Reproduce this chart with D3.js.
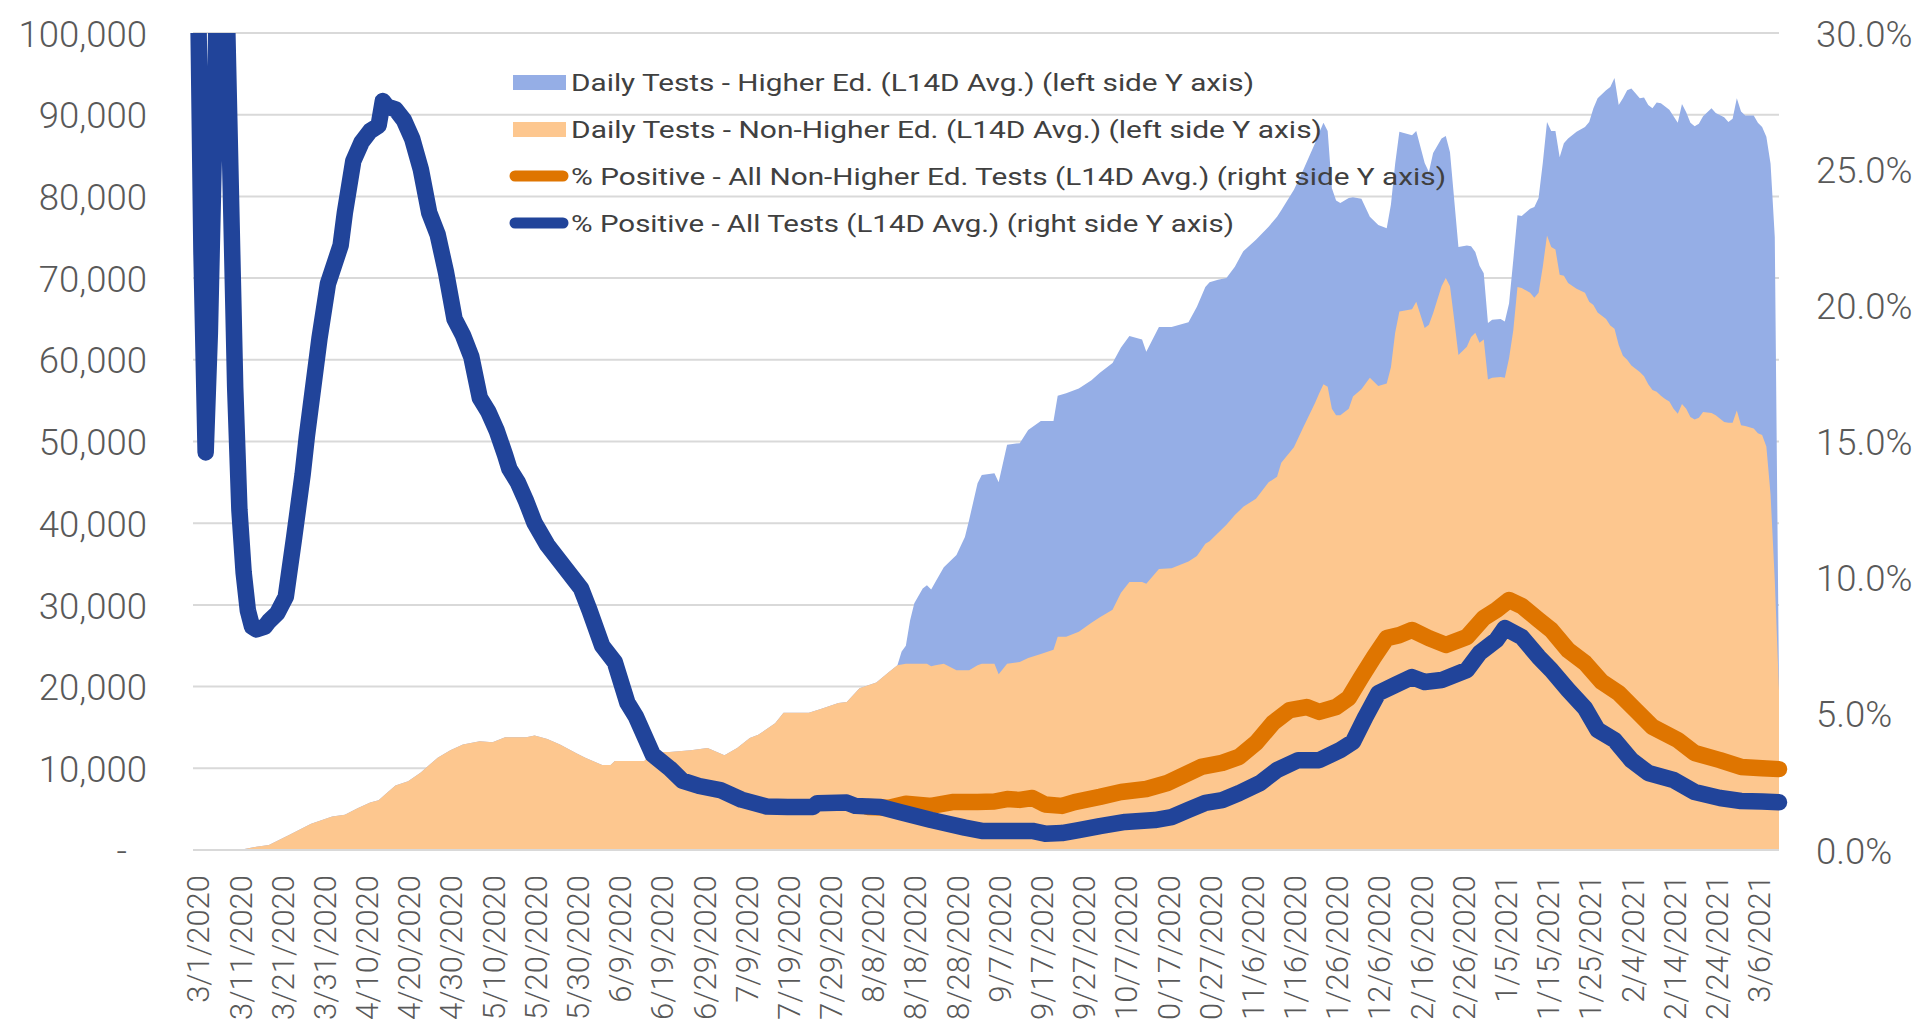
<!DOCTYPE html>
<html>
<head>
<meta charset="utf-8">
<script src="https://cdn.jsdelivr.net/npm/d3@7"></script>
<style>
  body { margin: 0; background: #fff; }
  svg { display: block; font-family: Roboto, "Open Sans", sans-serif; }
</style>
</head>
<body>
<svg width="1920" height="1022"></svg>
<script>
// all series are daily, counted in days from 3/1/2020
const startDate = new Date(2020, 2, 1);
const lastDay = 376;

const xTickLabels = ["3/1/2020", "3/11/2020", "3/21/2020", "3/31/2020", "4/10/2020", "4/20/2020",
  "4/30/2020", "5/10/2020", "5/20/2020", "5/30/2020", "6/9/2020", "6/19/2020", "6/29/2020",
  "7/9/2020", "7/19/2020", "7/29/2020", "8/8/2020", "8/18/2020", "8/28/2020", "9/7/2020",
  "9/17/2020", "9/27/2020", "10/7/2020", "10/17/2020", "10/27/2020", "11/6/2020", "11/16/2020",
  "11/26/2020", "12/6/2020", "12/16/2020", "12/26/2020", "1/5/2021", "1/15/2021", "1/25/2021",
  "2/4/2021", "2/14/2021", "2/24/2021", "3/6/2021"];

const leftTickValues = [0, 10000, 20000, 30000, 40000, 50000, 60000, 70000, 80000, 90000, 100000];
const leftTickLabels = ["-", "10,000", "20,000", "30,000", "40,000", "50,000", "60,000", "70,000", "80,000", "90,000", "100,000"];
const rightTickValues = [0, 5, 10, 15, 20, 25, 30];
const rightTickLabels = ["0.0%", "5.0%", "10.0%", "15.0%", "20.0%", "25.0%", "30.0%"];

// Daily Tests - Non-Higher Ed. (L14D Avg.)
const testDays = [
  0, 11, 15, 18, 23, 28, 33, 36, 39, 42,
  44, 46, 48, 51, 54, 56, 58, 61, 64, 68,
  71, 74, 79, 81, 84, 87, 91, 93, 97, 99,
  100, 107, 109, 113, 118, 122, 126, 129, 132, 134,
  138, 140, 146, 149, 153, 155, 158, 162, 165, 167,
  168, 169, 170, 171, 173, 174, 175, 176, 178, 181,
  183, 184, 186, 187, 190, 191, 193, 196, 198, 201,
  204, 205, 207, 210, 213, 215, 218, 220, 222, 225,
  226, 229, 232, 236, 238, 240, 241, 243, 245, 247,
  249, 252, 255, 257, 258, 261, 263, 266, 267, 268,
  269, 270, 271, 272, 274, 275, 277, 279, 281, 283,
  284, 285, 286, 289, 290, 292, 293, 294, 296, 297,
  298, 299, 300, 302, 303, 304, 305, 306, 307, 308,
  310, 311, 312, 313, 314, 315, 317, 318, 319, 320,
  321, 322, 323, 324, 325, 326, 328, 330, 331, 332,
  333, 335, 336, 337, 338, 339, 340, 341, 343, 344,
  345, 346, 347, 348, 349, 350, 351, 352, 353, 354,
  355, 356, 357, 358, 360, 361, 363, 364, 365, 366,
  367, 368, 370, 371, 372, 373, 374, 375, 376];
const nonHigherTests = [
  0, 0, 400, 600, 1900, 3200, 4100, 4300, 5100, 5800,
  6100, 7000, 7900, 8400, 9500, 10400, 11300, 12200, 12900, 13300,
  13200, 13800, 13800, 14000, 13600, 12900, 11800, 11300, 10400, 10400,
  10900, 10900, 12000, 12000, 12200, 12500, 11600, 12500, 13700, 14100,
  15500, 16800, 16800, 17300, 18000, 18100, 19800, 20500, 21800, 22600,
  22700, 22800, 22800, 22800, 22800, 22800, 22500, 22600, 22800, 22000,
  22000, 22000, 22600, 22800, 22800, 21500, 22800, 23000, 23500, 24000,
  24500, 26100, 26100, 26700, 27800, 28500, 29400, 31500, 32800, 32800,
  32600, 34400, 34500, 35300, 36000, 37500, 37800, 38800, 39800, 41000,
  42000, 43000, 45000, 45700, 47400, 49300, 51500, 54700, 55900, 57000,
  56700, 54000, 53200, 53200, 54000, 55500, 56400, 57800, 56800, 57100,
  59100, 63300, 65900, 66200, 67100, 63900, 64300, 65700, 69000, 70000,
  69000, 64900, 60600, 61600, 62800, 63300, 62100, 62500, 57600, 57800,
  57900, 57800, 60200, 63600, 68900, 68800, 68200, 67600, 68200, 71400,
  75200, 73800, 73500, 70400, 70300, 69400, 68700, 68200, 67100, 66700,
  65800, 65000, 64200, 63800, 61800, 60500, 60000, 59300, 58500, 58000,
  57000, 56300, 56100, 55600, 55200, 54900, 54000, 53400, 54600, 54000,
  53000, 52700, 52900, 53600, 53500, 53200, 52400, 52300, 52300, 53800,
  52000, 51900, 51600, 51000, 50800, 49400, 43500, 33000, 19500];

// Daily Tests - Higher Ed. (L14D Avg.), reported from mid August
const higherEdDays = [
  167, 168, 169, 170, 171, 173, 174, 175, 176, 178,
  181, 183, 184, 186, 187, 190, 191, 193, 196, 198,
  201, 204, 205, 207, 210, 213, 215, 218, 220, 222,
  225, 226, 229, 232, 236, 238, 240, 241, 243, 245,
  247, 249, 252, 255, 257, 258, 261, 263, 266, 267,
  268, 269, 270, 271, 272, 274, 275, 277, 279, 281,
  283, 284, 285, 286, 289, 290, 292, 293, 294, 296,
  297, 298, 299, 300, 302, 303, 304, 305, 306, 307,
  308, 310, 311, 312, 313, 314, 315, 317, 318, 319,
  320, 321, 322, 323, 324, 325, 326, 328, 330, 331,
  332, 333, 335, 336, 337, 338, 339, 340, 341, 343,
  344, 345, 346, 347, 348, 349, 350, 351, 352, 353,
  354, 355, 356, 357, 358, 360, 361, 363, 364, 365,
  366, 367, 368, 370, 371, 372, 373, 374, 375, 376];
const higherEdTests = [
  0, 1600, 2200, 5300, 7400, 9200, 9600, 9400, 10200, 11800,
  14100, 16300, 18400, 22300, 23100, 23300, 23500, 26800, 26800, 27900,
  28500, 28000, 29500, 29800, 29800, 29700, 29900, 30200, 30000, 30100,
  29700, 28400, 29600, 29500, 29300, 30500, 31400, 31700, 31000, 30200,
  30400, 31300, 31700, 31300, 31800, 30900, 31500, 31500, 31800, 31900,
  32000, 31300, 27000, 26300, 26000, 25800, 24400, 23300, 19700, 19700,
  19000, 19900, 20700, 22000, 21300, 20900, 20200, 18700, 19600, 18100,
  17400, 16400, 14700, 13200, 12400, 11100, 9900, 9400, 8100, 6900,
  7100, 7100, 6900, 6700, 8600, 8800, 8800, 10300, 11100, 11600,
  12700, 13900, 14200, 14500, 14400, 16200, 17700, 19200, 20300, 22000,
  24100, 26200, 28000, 29200, 30700, 29400, 31500, 33000, 33900, 33500,
  34100, 34200, 34500, 35400, 35800, 35800, 35700, 35800, 35600, 36700,
  36300, 36000, 35900, 36000, 36200, 37300, 37000, 37300, 36800, 37200,
  38200, 38400, 38000, 38300, 38000, 37700, 37900, 40500, 42000, 500];

// % Positive - All Tests (L14D Avg.)
const allPosDays = [
  0, 1, 2, 3, 4, 5, 6, 7, 8, 9,
  10, 11, 12, 13, 14, 15, 17, 18, 20, 22,
  24, 26, 27, 30, 32, 35, 36, 38, 40, 42,
  44, 45, 46, 48, 50, 52, 54, 56, 58, 60,
  62, 64, 66, 68, 70, 72, 74, 75, 77, 79,
  81, 84, 88, 92, 94, 97, 100, 103, 105, 109,
  113, 116, 120, 125, 130, 136, 141, 147, 148, 155,
  157, 163, 168, 175, 183, 187, 199, 202, 206, 210,
  215, 221, 228, 232, 236, 240, 244, 248, 253, 257,
  262, 267, 272, 275, 278, 281, 285, 289, 292, 296,
  302, 305, 309, 311, 315, 319, 322, 326, 330, 333,
  337, 341, 345, 351, 356, 362, 367, 372, 376];
const allPosPct = [
  45, 34, 22, 14.6, 19, 26, 34, 36, 31, 24,
  17, 12.5, 10.2, 8.8, 8.2, 8.1, 8.2, 8.4, 8.7, 9.3,
  11.5, 13.8, 15.2, 18.8, 20.8, 22.2, 23.4, 25.3, 26.0, 26.4,
  26.6, 27.5, 27.3, 27.2, 26.8, 26.1, 25.0, 23.4, 22.6, 21.2,
  19.5, 18.9, 18.1, 16.6, 16.1, 15.4, 14.5, 14.0, 13.5, 12.8,
  12.0, 11.2, 10.4, 9.6, 8.8, 7.5, 6.9, 5.4, 4.9, 3.5,
  3.0, 2.55, 2.35, 2.2, 1.85, 1.6, 1.58, 1.58, 1.72, 1.74,
  1.62, 1.58, 1.38, 1.10, 0.82, 0.70, 0.70, 0.60, 0.62, 0.73,
  0.88, 1.03, 1.10, 1.21, 1.47, 1.73, 1.83, 2.09, 2.46, 2.94,
  3.3, 3.3, 3.67, 3.97, 4.9, 5.76, 6.06, 6.35, 6.17, 6.24,
  6.61, 7.23, 7.71, 8.15, 7.82, 7.09, 6.61, 5.88, 5.21, 4.41,
  4.04, 3.3, 2.83, 2.57, 2.13, 1.91, 1.80, 1.78, 1.75];

// % Positive - All Non-Higher Ed. Tests (L14D Avg.), same as all tests before August
const nonHigherPosDays = [
  160, 165, 169, 175, 180, 186, 190, 193, 196, 199,
  202, 206, 209, 215, 220, 226, 231, 234, 239, 244,
  248, 252, 256, 260, 264, 267, 271, 274, 277, 280,
  283, 286, 289, 293, 297, 302, 306, 309, 312, 315,
  319, 322, 326, 330, 334, 338, 342, 346, 352, 356,
  362, 367, 372, 376];
const nonHigherPosPct = [
  1.58, 1.55, 1.70, 1.62, 1.76, 1.76, 1.78, 1.87, 1.84, 1.91,
  1.67, 1.62, 1.76, 1.95, 2.13, 2.24, 2.46, 2.68, 3.05, 3.2,
  3.42, 3.93, 4.66, 5.14, 5.25, 5.07, 5.25, 5.58, 6.35, 7.09,
  7.78, 7.89, 8.08, 7.78, 7.53, 7.82, 8.52, 8.81, 9.18, 8.96,
  8.45, 8.08, 7.34, 6.87, 6.17, 5.76, 5.14, 4.52, 4.04, 3.56,
  3.3, 3.05, 3.0, 2.97];

const legendLabels = [
  "Daily Tests - Higher Ed. (L14D Avg.) (left side Y axis)",
  "Daily Tests - Non-Higher Ed. (L14D Avg.) (left side Y axis)",
  "% Positive - All Non-Higher Ed. Tests (L14D Avg.) (right side Y axis)",
  "% Positive - All Tests (L14D Avg.) (right side Y axis)"];

const colBlueArea = "#95aee6", colOrangeArea = "#fdc78f";
const colOrangeLine = "#df7500", colBlueLine = "#21449a";

// plot area
const plotLeft = 193, plotRight = 1779, plotTop = 33, plotBottom = 850;
const svg = d3.select("svg");
const day = (d) => d3.timeDay.offset(startDate, d);
const parseDate = d3.timeParse("%m/%d/%Y");

const x = d3.scaleTime().domain([startDate, day(lastDay)]).range([plotLeft, plotRight]);
const yLeft = d3.scaleLinear().domain([0, 100000]).range([plotBottom, plotTop]);
const yRight = d3.scaleLinear().domain([0, 30]).range([plotBottom, plotTop]);

// gridlines
svg.append("g")
  .selectAll("line")
  .data(leftTickValues.slice(1))
  .enter()
  .append("line")
  .attr("x1", plotLeft).attr("x2", plotRight)
  .attr("y1", (d) => yLeft(d)).attr("y2", (d) => yLeft(d))
  .attr("stroke", "#d9d9d9")
  .attr("stroke-width", 2);

// stacked areas: non-higher at the bottom, higher ed on top
const higherByDay = new Map(higherEdDays.map((d, i) => [d, higherEdTests[i]]));
const rows = testDays.map((d, i) => ({
  date: day(d),
  nonHigher: nonHigherTests[i],
  higher: higherByDay.get(d) || 0,
}));
const stacked = d3.stack().keys(["nonHigher", "higher"])(rows);

const area = d3.area()
  .x((d) => x(d.data.date))
  .y0(yLeft(0))
  .y1((d) => yLeft(d[1]));

svg.append("path").datum(stacked[1]).attr("d", area).attr("fill", colBlueArea);
svg.append("path").datum(stacked[0]).attr("d", area).attr("fill", colOrangeArea);

// axis base line
svg.append("line")
  .attr("x1", plotLeft).attr("x2", plotRight)
  .attr("y1", plotBottom).attr("y2", plotBottom)
  .attr("stroke", "#d9d9d9").attr("stroke-width", 2);

// lines (clipped to the plot area, the early peak goes off the top)
svg.append("clipPath").attr("id", "plotClip")
  .append("rect")
  .attr("x", plotLeft - 20).attr("y", plotTop)
  .attr("width", plotRight - plotLeft + 40).attr("height", plotBottom - plotTop + 20);

const line = d3.line()
  .x((d) => x(day(d[0])))
  .y((d) => yRight(d[1]));

const lines = svg.append("g").attr("clip-path", "url(#plotClip)");
lines.append("path")
  .datum(nonHigherPosDays.map((d, i) => [d, nonHigherPosPct[i]]))
  .attr("d", line)
  .attr("fill", "none")
  .attr("stroke", colOrangeLine)
  .attr("stroke-width", 16.5)
  .attr("stroke-linejoin", "round")
  .attr("stroke-linecap", "round");
lines.append("path")
  .datum(allPosDays.map((d, i) => [d, allPosPct[i]]))
  .attr("d", line)
  .attr("fill", "none")
  .attr("stroke", colBlueLine)
  .attr("stroke-width", 16.5)
  .attr("stroke-linejoin", "round")
  .attr("stroke-linecap", "round");

// axes
const tickDates = xTickLabels.map(parseDate);
const xAxis = svg.append("g")
  .attr("transform", `translate(0,${plotBottom})`)
  .call(d3.axisBottom(x).tickValues(tickDates).tickFormat((d, i) => xTickLabels[i]).tickSize(0));
xAxis.select(".domain").remove();
xAxis.selectAll("text")
  .attr("transform", "rotate(-90)")
  .attr("text-anchor", "end")
  .attr("x", -25)
  .attr("y", 5)
  .attr("dy", "0.35em")
  .attr("fill", "#595959")
  .style("font-size", "31px")
  .style("font-weight", 300)
  .style("font-family", "Roboto, sans-serif");

const yAxisL = svg.append("g")
  .attr("transform", "translate(147,0)")
  .call(d3.axisLeft(yLeft).tickValues(leftTickValues).tickFormat((d, i) => leftTickLabels[i]).tickSize(0).tickPadding(0));
yAxisL.select(".domain").remove();
yAxisL.selectAll("text")
  .attr("fill", "#595959")
  .attr("dy", "0.36em")
  .attr("x", (d) => (d === 0 ? -20 : 0))
  .style("font-size", "36.5px")
  .style("font-weight", 300)
  .style("font-family", "Roboto, sans-serif");

const yAxisR = svg.append("g")
  .attr("transform", "translate(1816,0)")
  .call(d3.axisRight(yRight).tickValues(rightTickValues).tickFormat((d, i) => rightTickLabels[i]).tickSize(0).tickPadding(0));
yAxisR.select(".domain").remove();
yAxisR.selectAll("text")
  .attr("fill", "#595959")
  .attr("dy", "0.36em")
  .style("font-size", "36.5px")
  .style("font-weight", 300)
  .style("font-family", "Roboto, sans-serif");

// legend
const legendRows = [82.5, 129.5, 176, 223];
const legendWidths = [683, 751, 875, 663];
const legend = svg.append("g");
legend.append("rect").attr("x", 513).attr("y", legendRows[0] - 7.5).attr("width", 53).attr("height", 15).attr("fill", colBlueArea);
legend.append("rect").attr("x", 513).attr("y", legendRows[1] - 7.5).attr("width", 53).attr("height", 15).attr("fill", colOrangeArea);
legend.append("line").attr("x1", 515).attr("x2", 563).attr("y1", legendRows[2]).attr("y2", legendRows[2])
  .attr("stroke", colOrangeLine).attr("stroke-width", 11).attr("stroke-linecap", "round");
legend.append("line").attr("x1", 515).attr("x2", 563).attr("y1", legendRows[3]).attr("y2", legendRows[3])
  .attr("stroke", colBlueLine).attr("stroke-width", 11).attr("stroke-linecap", "round");
legend.selectAll("text")
  .data(legendLabels)
  .enter()
  .append("text")
  .attr("x", 571)
  .attr("y", (d, i) => legendRows[i])
  .attr("dy", "0.36em")
  .attr("textLength", (d, i) => legendWidths[i])
  .attr("lengthAdjust", "spacingAndGlyphs")
  .attr("fill", "#404040")
  .style("font-size", "24.5px")
  .text((d) => d);
</script>
</body>
</html>
